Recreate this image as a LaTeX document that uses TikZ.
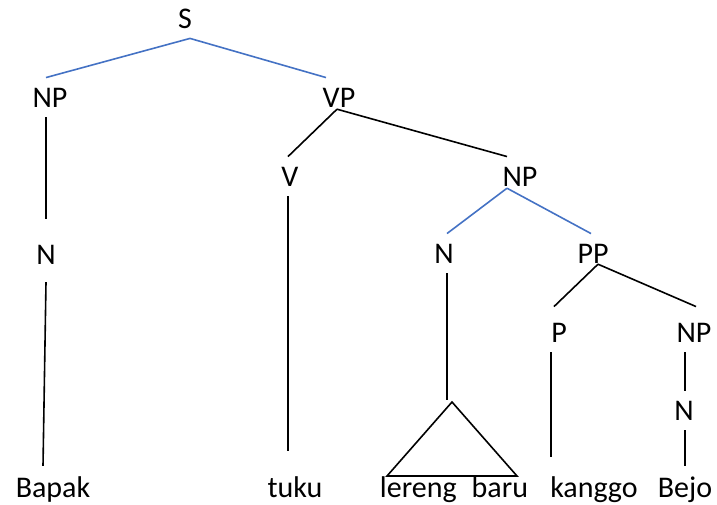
\documentclass[tikz,border=0pt]{standalone}
\usepackage{fontspec}
\setmainfont{Carlito}
\usepackage{tikz}
\tikzset{lab/.style = {anchor = base, inner sep = 10pt,
                       font = \fontsize{30}{32}\selectfont}}
\tikzset{branch/.style = {line width = 1.6pt, black}}
\tikzset{bbranch/.style = {line width = 1.6pt, lblue}}
\definecolor{lblue}{RGB}{68, 114, 196}

\begin{document}
\begin{tikzpicture}[x = 1pt, y = -1pt]
      \useasboundingbox (0, 0) rectangle (717, 504);
      % labels
      \node [lab] (s) at (185, 28) {S};
      \node [lab] (np1) at (50, 107) {NP};
      \node [lab] (vp) at (339, 107) {VP};
      \node [lab] (n1) at (46, 264) {N};
      \node [lab] (v) at (290, 186) {V};
      \node [lab] (np2) at (520, 186) {NP};
      \node [lab] (n2) at (444, 263) {N};
      \node [lab] (pp) at (593, 263) {PP};
      \node [lab] (p) at (559, 342) {P};
      \node [lab] (np3) at (694, 342) {NP};
      \node [lab] (n3) at (684, 420) {N};
      % words
      \node [lab] (bapak) at (53, 497) {Bapak};
      \node [lab] (tuku) at (295, 497) {tuku};
      \node [lab] (lereng) at (454, 497) {lereng\hspace{15pt}baru};
      \node [lab] (kanggo) at (594, 497) {kanggo};
      \node [lab] (bejo) at (685, 497) {Bejo};
      \coordinate (apex) at (452, 402);
      \coordinate (roof) at (447, 400);
      % blue branches
      \draw [bbranch] ([xshift = 5pt]s.south) -- ([xshift = -4pt]np1.north);
      \draw [bbranch] ([xshift = 5pt]s.south) -- ([xshift = -13pt]vp.north);
      \draw [bbranch] ([xshift = -13pt, yshift = 8pt]np2.south) -- ([xshift = 3pt]n2.north);
      \draw [bbranch] ([xshift = -13pt, yshift = 8pt]np2.south) -- ([xshift = -2pt]pp.north);
      % black branches
      \draw [branch] ([xshift = -4pt]np1.south) -- ([yshift = 16pt]n1.north);
      \draw [branch] ([yshift = -8pt]n1.south) -- ([xshift = -10pt]bapak.north);
      \draw [branch] ([xshift = -2pt, yshift = 8pt]vp.south) -- ([xshift = -2pt]v.north);
      \draw [branch] ([xshift = -2pt, yshift = 8pt]vp.south) -- ([xshift = -13pt]np2.north);
      \draw [branch] ([xshift = -2pt]v.south) -- ([xshift = -7pt, yshift = 15pt]tuku.north);
      \draw [branch] ([xshift = 3pt]n2.south) -- (roof);
      \draw [branch] ([xshift = 5pt, yshift = 9pt]pp.south) -- ([xshift = -5pt, yshift = 6pt]p.north);
      \draw [branch] ([xshift = 5pt, yshift = 9pt]pp.south) -- ([xshift = 2pt, yshift = 6pt]np3.north);
      \draw [branch] ([xshift = -8pt]p.south) -- ([xshift = -43pt, yshift = 9pt]kanggo.north);
      \draw [branch] ([xshift = -9pt]np3.south) -- ([xshift = 1pt]n3.north);
      \draw [branch] ([xshift = 1pt]n3.south) -- (bejo.north);
      \draw [branch] (apex) -- (387, 476) -- (517, 476) -- cycle;
\end{tikzpicture}
\end{document}
